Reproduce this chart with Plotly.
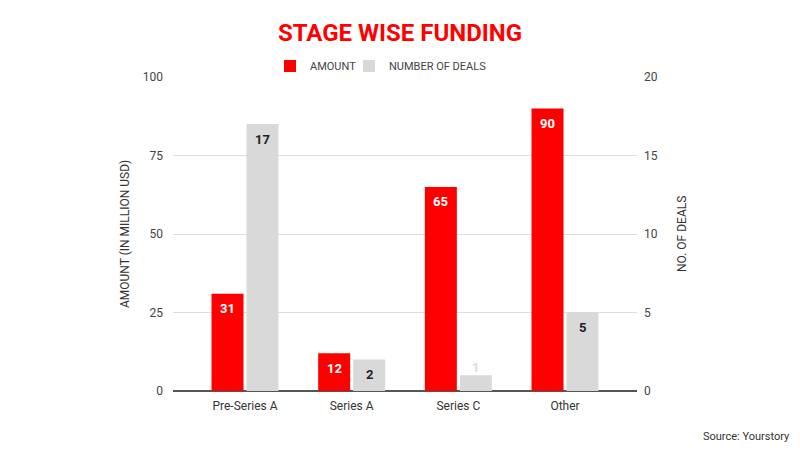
import plotly.graph_objects as go

categories = ["Pre-Series A", "Series A", "Series C", "Other"]
amount = [31, 12, 65, 90]
deals = [17, 2, 1, 5]
left_ticks = [0, 25, 50, 75, 100]
right_ticks = [0, 5, 10, 15, 20]

L, R, T, B = 173, 163, 77, 59
W = 800 - L - R
H = 450 - T - B

fig = go.Figure()
fig.add_trace(go.Bar(
    x=categories, y=amount, name="AMOUNT", yaxis="y", legend="legend",
    marker=dict(color="#ff0000", line=dict(width=0)),
    width=0.3, offset=-0.314,
))
fig.add_trace(go.Bar(
    x=categories, y=deals, name="NUMBER OF DEALS", yaxis="y2", legend="legend2",
    marker=dict(color="#d9d9d9", line=dict(width=0)),
    width=0.3, offset=0.014,
))

ann = []
for c, v in zip(categories, amount):
    ann.append(dict(x=c, y=v, xref="x", yref="y", text=str(v), showarrow=False,
                    xshift=-17.5, yshift=-15, xanchor="center", yanchor="middle",
                    font=dict(family="Roboto", size=13, color="white", weight="bold")))
for c, v in zip(categories, deals):
    inside = v >= 2
    ann.append(dict(x=c, y=v, xref="x", yref="y2", text=str(v), showarrow=False,
                    xshift=17.5, yshift=-15 if inside else 8, xanchor="center", yanchor="middle",
                    font=dict(family="Roboto", size=13,
                              color="#222222" if inside else "#dcdcdc", weight="bold")))

ann += [
    dict(text="AMOUNT (IN MILLION USD)", xref="paper", yref="paper",
         x=(125 - L) / W, y=0.5, textangle=-90, showarrow=False,
         xanchor="center", yanchor="middle", font=dict(size=12, color="#333333")),
    dict(text="NO. OF DEALS", xref="paper", yref="paper",
         x=(682 - L) / W, y=0.5, textangle=-90, showarrow=False,
         xanchor="center", yanchor="middle", font=dict(size=12, color="#333333")),
    dict(text="Source: Yourstory", xref="paper", yref="paper",
         x=(792 - L) / W, y=-(436 - 391) / H, showarrow=False,
         xanchor="right", yanchor="middle", font=dict(size=11, color="#333333")),
]

legend_common = dict(orientation="h", y=1 + 11 / H, yanchor="middle", xanchor="left",
                     font=dict(size=11, color="#444444"), itemwidth=30,
                     bgcolor="rgba(0,0,0,0)")

fig.update_layout(
    width=800, height=450,
    margin=dict(l=L, r=R, t=T, b=B),
    paper_bgcolor="white", plot_bgcolor="white",
    font=dict(family="Roboto", size=11, color="#444444"),
    title=dict(text="STAGE WISE FUNDING", x=0.5, xanchor="center", y=1 - 33/450, yanchor="middle",
               font=dict(family="Roboto", size=24, color="#ff0000", weight="bold")),
    legend=dict(x=(270 - L) / W, **legend_common),
    legend2=dict(x=(349 - L) / W, **legend_common),
    showlegend=True,
    barmode="overlay",
    xaxis=dict(range=[-0.675, 3.675], showgrid=False, showline=False, zeroline=False,
               ticklabelstandoff=6,
               tickfont=dict(size=12, color="#333333"), fixedrange=True),
    yaxis=dict(range=[0, 100], tickvals=left_ticks, showgrid=True, gridcolor="#dddddd",
               zeroline=True, zerolinecolor="#555555", zerolinewidth=1.5,
               showline=False, ticks="", ticklabelstandoff=9,
               tickfont=dict(size=12, color="#444444")),
    yaxis2=dict(range=[0, 20], tickvals=right_ticks, overlaying="y", side="right",
                showgrid=False, zeroline=False, showline=False, ticks="", ticklabelstandoff=6,
                tickfont=dict(size=12, color="#444444")),
    annotations=ann,
)

fig.write_html("out.html")
